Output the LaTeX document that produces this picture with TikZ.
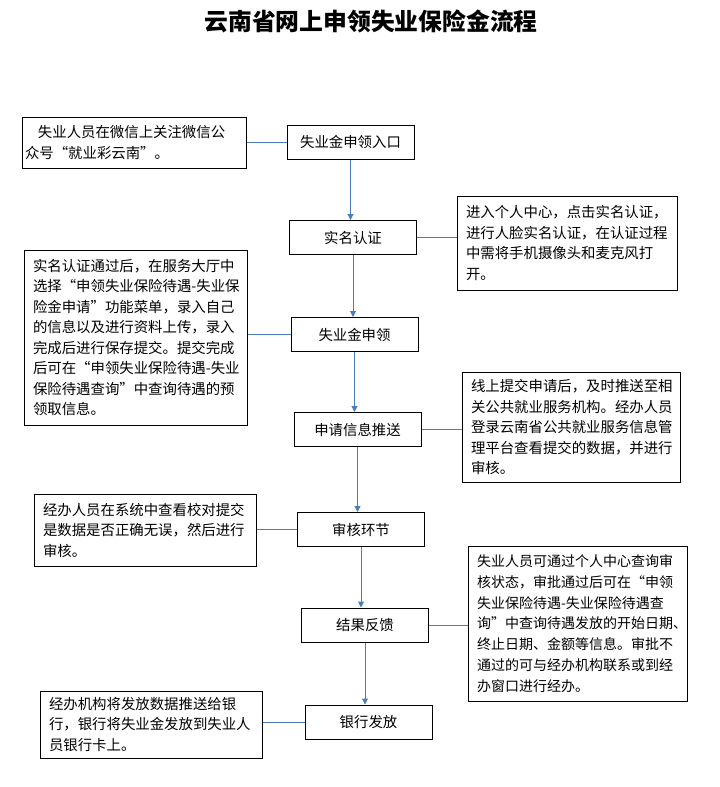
\documentclass[tikz,border=0pt]{standalone}
\usepackage{fontspec}
\setmainfont{Noto Sans CJK SC}
\usetikzlibrary{arrows.meta}
\definecolor{linkblue}{HTML}{4A7EBB}
\tikzset{
  stage/.style={draw=black, line width=1pt, minimum width=127pt, minimum height=34pt, inner sep=0pt, font=\fontsize{14.4pt}{20.5pt}\selectfont},
  note/.style={draw=black, line width=1pt, inner xsep=9pt, inner ysep=0pt, align=left, font=\fontsize{14.4pt}{20.5pt}\selectfont},
  flow/.style={-{Triangle[length=6pt, width=6pt]}, line width=1pt, color=linkblue},
  link/.style={line width=0.9pt, color=linkblue}
}
\newcommand{\dashmark}{\mbox{-}}

\begin{document}
\begin{tikzpicture}[x=1pt, y=-1pt]
\useasboundingbox (0,0) rectangle (720,787);
\node[font=\fontsize{23.8pt}{28pt}\selectfont\bfseries] (title) at (371,21) {云南省网上申领失业保险金流程};
% main steps
\node[stage] (entry) at (350.5,142) {失业金申领入口};
\node[stage] (verify) at (353,237.5) {实名认证};
\node[stage] (apply) at (354.5,334.5) {失业金申领};
\node[stage] (push) at (357.5,429.5) {申请信息推送};
\node[stage] (audit) at (361,529.5) {审核环节};
\node[stage] (result) at (365,625) {结果反馈};
\node[stage] (pay) at (368.5,722) {银行发放};
% notes
\node[note, inner xsep=3pt, text width=218pt, minimum height=51pt] (entrynote) at (134,142.5)
  {\hspace*{13pt}失业人员在微信上关注微信公\\众号“就业彩云南”。};
\node[note, text width=202pt, minimum height=94pt] (verifynote) at (567,243)
  {进入个人中心，点击实名认证，\\进行人脸实名认证，在认证过程\\中需将手机摄像头和麦克风打\\开。};
\node[note, text width=205pt, minimum height=175pt] (applynote) at (135.5,337.5)
  {实名认证通过后，在服务大厅中\\选择“申领失业保险待遇\dashmark 失业保\\险金申请”功能菜单，录入自己\\的信息以及进行资料上传，录入\\完成后进行保存提交。提交完成\\后可在“申领失业保险待遇\dashmark 失业\\保险待遇查询”中查询待遇的预\\领取信息。};
\node[note, text width=200pt, minimum height=110pt] (pushnote) at (571,427)
  {线上提交申请后，及时推送至相\\关公共就业服务机构。经办人员\\登录云南省公共就业服务信息管\\理平台查看提交的数据，并进行\\审核。};
\node[note, text width=204pt, minimum height=72pt] (auditnote) at (145,530)
  {经办人员在系统中查看校对提交\\是数据是否正确无误，然后进行\\审核。};
\node[note, text width=201pt, minimum height=155pt, font=\fontsize{14pt}{20.8pt}\selectfont] (resultnote) at (577.5,623.5)
  {失业人员可通过个人中心查询审\\核状态，审批通过后可在“申领\\失业保险待遇\dashmark 失业保险待遇查\\询”中查询待遇发放的开始日期、\\终止日期、金额等信息。审批不\\通过的可与经办机构联系或到经\\办窗口进行经办。};
\node[note, text width=204pt, minimum height=67pt] (paynote) at (151,724.5)
  {经办机构将发放数据推送给银\\行，银行将失业金发放到失业人\\员银行卡上。};
% arrows
\draw[flow] (entry.south) -- (entry.south |- verify.north);
\draw[flow] (verify.south) -- (verify.south |- apply.north);
\draw[flow] (apply.south) -- (apply.south |- push.north);
\draw[flow] (push.south) -- (push.south |- audit.north);
\draw[flow] (audit.south) -- (audit.south |- result.north);
\draw[flow] (result.south) -- (result.south |- pay.north);
% side links
\draw[link] (entry.west) -- (entry.west -| entrynote.east);
\draw[link] (verify.east) -- (verify.east -| verifynote.west);
\draw[link] (apply.west) -- (apply.west -| applynote.east);
\draw[link] (push.east) -- (push.east -| pushnote.west);
\draw[link] (audit.west) -- (audit.west -| auditnote.east);
\draw[link] (result.east) -- (result.east -| resultnote.west);
\draw[link] (pay.west) -- (pay.west -| paynote.east);
\end{tikzpicture}
\end{document}
